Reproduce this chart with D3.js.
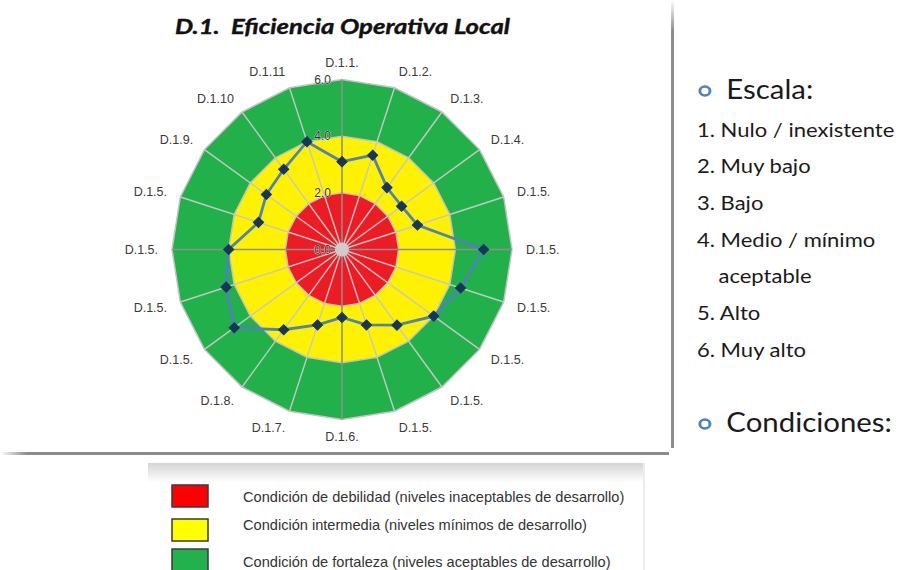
<!DOCTYPE html>
<html>
<head>
<meta charset="utf-8">
<script src="https://cdn.jsdelivr.net/npm/d3@7"></script>
<style>
  html, body { margin: 0; padding: 0; background: #fff; }
  svg { display: block; }
  text { white-space: pre; }
</style>
</head>
<body>
<svg id="chart" width="899" height="570"></svg>
<script>
// ---------------- data ----------------
const categories = ["D.1.1.","D.1.2.","D.1.3.","D.1.4.","D.1.5.","D.1.5.","D.1.5.","D.1.5.","D.1.5.","D.1.5.",
                    "D.1.6.","D.1.7.","D.1.8.","D.1.5.","D.1.5.","D.1.5.","D.1.5.","D.1.9.","D.1.10","D.1.11"];
const values = [3.1, 3.5, 2.7, 2.6, 2.8, 5.0, 4.4, 4.0, 3.3, 2.8,
                2.4, 2.8, 3.5, 4.7, 4.3, 4.0, 3.1, 3.3, 3.5, 4.0];
const bandLimits = [6, 4, 2];
const bandColors = ["#22B04B", "#FFF200", "#ED1C24"];
const tickValues = [0, 2, 4, 6];
const tickLabels = ["0.0", "2.0", "4.0", "6.0"];
const scaleItems = ["1. Nulo / inexistente", "2. Muy bajo", "3. Bajo", "4. Medio / mínimo", "aceptable", "5. Alto", "6. Muy alto"];
const legendLabels = ["Condición de debilidad (niveles inaceptables de desarrollo)",
                      "Condición intermedia (niveles mínimos de desarrollo)",
                      "Condición de fortaleza (niveles aceptables de desarrollo)"];
const legendColors = ["#FF0000", "#FFFF00", "#22B14C"];

// ---------------- setup ----------------
const svg = d3.select("#chart");
const cx = 342, cy = 249.5, R = 170;
const n = categories.length;
const angle = d3.scalePoint().domain(d3.range(n + 1)).range([0, 2 * Math.PI]);
const r = d3.scaleLinear().domain([0, 6]).range([0, R]);

const defs = svg.append("defs");
const g1 = defs.append("linearGradient").attr("id", "legGrad").attr("x1", 0).attr("y1", 0).attr("x2", 0).attr("y2", 1);
g1.append("stop").attr("offset", "0%").attr("stop-color", "#d4d4d4");
g1.append("stop").attr("offset", "18%").attr("stop-color", "#ffffff");
g1.append("stop").attr("offset", "100%").attr("stop-color", "#ffffff");
const g2 = defs.append("linearGradient").attr("id", "botGrad").attr("x1", 0).attr("y1", 0).attr("x2", 1).attr("y2", 0);
g2.append("stop").attr("offset", "0%").attr("stop-color", "#ffffff");
g2.append("stop").attr("offset", "4%").attr("stop-color", "#8c8c8c");
g2.append("stop").attr("offset", "100%").attr("stop-color", "#8c8c8c");
const g3 = defs.append("linearGradient").attr("id", "rightGrad").attr("x1", 0).attr("y1", 0).attr("x2", 0).attr("y2", 1);
g3.append("stop").attr("offset", "0%").attr("stop-color", "#ffffff");
g3.append("stop").attr("offset", "7%").attr("stop-color", "#8c8c8c");
g3.append("stop").attr("offset", "100%").attr("stop-color", "#8c8c8c");

// frame borders of the chart picture
svg.append("rect").attr("x", 671).attr("y", 0).attr("width", 3).attr("height", 448).attr("fill", "url(#rightGrad)");
svg.append("rect").attr("x", 0).attr("y", 452).attr("width", 669).attr("height", 3).attr("fill", "url(#botGrad)");

// title
svg.append("text")
  .attr("x", 175).attr("y", 34)
  .attr("textLength", 335).attr("lengthAdjust", "spacingAndGlyphs")
  .attr("font-family", "Lato, 'Open Sans', sans-serif")
  .attr("font-weight", "bold").attr("font-style", "italic")
  .attr("font-size", 21).attr("fill", "#111")
  .attr("stroke", "#111").attr("stroke-width", 0.4)
  .text("D.1.  Eficiencia Operativa Local");

const plot = svg.append("g").attr("transform", `translate(${cx},${cy})`);

const ringLine = d3.lineRadial().angle((d, i) => angle(i)).radius(d => d).curve(d3.curveLinearClosed);

// bands
bandLimits.forEach((lim, k) => {
  plot.append("path")
    .attr("d", ringLine(d3.range(n).map(() => r(lim))))
    .attr("fill", bandColors[k])
    .attr("stroke", "#c3c3c3").attr("stroke-width", 1.5);
});

// spokes
plot.selectAll("line.spoke").data(d3.range(n)).join("line")
  .attr("class", "spoke")
  .attr("x1", 0).attr("y1", 0)
  .attr("x2", i => r(6) * Math.sin(angle(i)))
  .attr("y2", i => -r(6) * Math.cos(angle(i)))
  .attr("stroke", i => (i % 5 === 0) ? "#8f8f8f" : "#c6c6c6")
  .attr("stroke-width", i => (i % 5 === 0) ? 1.6 : 1.4);
plot.append("circle").attr("r", 7).attr("fill", "#cfcfcf").attr("opacity", 0.9);

// tick labels
plot.selectAll("text.tick").data(tickValues).join("text")
  .attr("class", "tick")
  .attr("x", -11).attr("y", d => -r(d))
  .attr("dy", "0.35em")
  .attr("text-anchor", "end")
  .attr("font-family", "'Liberation Sans', Arial, sans-serif")
  .attr("font-size", 12).attr("fill", "#333")
  .attr("stroke", "#fff").attr("stroke-width", 0.6).attr("paint-order", "stroke")
  .text((d, i) => tickLabels[i]);

// category labels
plot.selectAll("text.cat").data(categories).join("text")
  .attr("class", "cat")
  .attr("x", (d, i) => (R + 14) * Math.sin(angle(i)))
  .attr("y", (d, i) => -(R + 14) * Math.cos(angle(i)) - 3 * Math.cos(angle(i)))
  .attr("dy", "0.35em")
  .attr("text-anchor", (d, i) => {
    const s = Math.sin(angle(i));
    return s > 0.1 ? "start" : (s < -0.1 ? "end" : "middle");
  })
  .attr("font-family", "'Liberation Sans', Arial, sans-serif")
  .attr("font-size", 12.5).attr("fill", "#3a3a3a")
  .text(d => d);

// data series
plot.append("path")
  .attr("d", ringLine(values.map(v => r(v))))
  .attr("fill", "none")
  .attr("stroke", "#4F81BD").attr("stroke-width", 2.8);

plot.selectAll("path.marker").data(values).join("path")
  .attr("class", "marker")
  .attr("d", d3.symbol(d3.symbolSquare, 52))
  .attr("transform", (d, i) => `translate(${r(d) * Math.sin(angle(i))},${-r(d) * Math.cos(angle(i))}) rotate(45)`)
  .attr("fill", "#16365C").attr("stroke", "#16365C").attr("stroke-width", 1);

// right side text (slightly stretched horizontally, as in the source picture)
const side = svg.append("g")
  .attr("transform", "translate(697,0) scale(1.13,1) translate(-697,0)")
  .attr("font-family", "Lato, 'Open Sans', sans-serif").attr("fill", "#1a1a1a");
side.append("circle").attr("cx", 704).attr("cy", 91).attr("r", 4.5).attr("fill", "none").attr("stroke", "#4F81BD").attr("stroke-width", 2.6);
side.append("text").attr("x", 723).attr("y", 99).attr("font-size", 26).text("Escala:");
const itemY = [131, 167, 204, 241, 277, 314, 351];
side.selectAll("text.item").data(scaleItems).join("text")
  .attr("class", "item")
  .attr("x", (d, i) => i === 4 ? 716 : 697)
  .attr("y", (d, i) => itemY[i] + 6.5)
  .attr("font-size", 19.5)
  .text(d => d);
side.append("circle").attr("cx", 704).attr("cy", 424).attr("r", 4.5).attr("fill", "none").attr("stroke", "#4F81BD").attr("stroke-width", 2.6);
side.append("text").attr("x", 723).attr("y", 432).attr("font-size", 26).text("Condiciones:");

// legend panel
svg.append("rect").attr("x", 148).attr("y", 463).attr("width", 496).attr("height", 107).attr("fill", "url(#legGrad)");
svg.append("rect").attr("x", 643).attr("y", 463).attr("width", 2).attr("height", 107).attr("fill", "#ececec");
const swY = [485, 519, 549];
const txY = [497, 525, 562];
svg.selectAll("rect.sw").data(legendColors).join("rect")
  .attr("class", "sw")
  .attr("x", 172).attr("y", (d, i) => swY[i]).attr("width", 36).attr("height", 22)
  .attr("fill", d => d).attr("stroke", "#3a3a3a").attr("stroke-width", 1.5);
svg.selectAll("text.leg").data(legendLabels).join("text")
  .attr("class", "leg")
  .attr("x", 243).attr("y", (d, i) => txY[i] + 5)
  .attr("font-family", "'Liberation Sans', Arial, sans-serif")
  .attr("font-size", 14.6).attr("fill", "#333")
  .text(d => d);
</script>
</body>
</html>
